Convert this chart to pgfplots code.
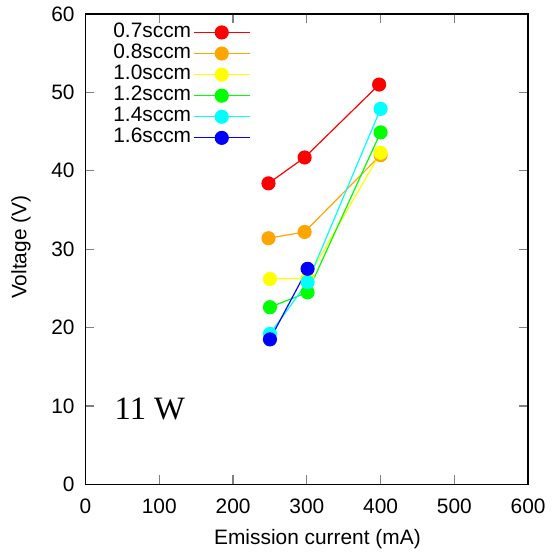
\documentclass[border=0pt]{standalone}
\usepackage{fontspec}
\setmainfont{Liberation Sans}
\newfontfamily\timesfont{Liberation Serif}
\usepackage{pgfplots}
\pgfplotsset{compat=1.18}

\definecolor{cRed}{RGB}{255,0,0}
\definecolor{cOrange}{RGB}{255,165,0}
\definecolor{cYellow}{RGB}{255,255,0}
\definecolor{cGreen}{RGB}{0,255,0}
\definecolor{cCyan}{RGB}{0,255,255}
\definecolor{cBlue}{RGB}{0,0,255}

\begin{document}
\begin{tikzpicture}
\begin{axis}[
    scale only axis,
    width=222.5bp, height=236.5bp,
    xmin=0, xmax=600, ymin=0, ymax=60,
    xtick={0,100,...,600},
    ytick={0,10,...,60},
    tick align=inside,
    major tick length=4.5bp,
    tick style={color=gray, line width=0.6pt},
    axis line style={line width=0.7pt},
    font=\fontsize{10.5bp}{12.6bp}\selectfont,
    /pgf/number format/assume math mode=true,
    xticklabel style={yshift=-3.6bp},
    yticklabel style={xshift=-2bp},
    xlabel={Emission current (mA)},
    ylabel={Voltage (V)},
    xlabel style={at={(axis description cs:0.524,-0.1268)}, anchor=base},
    ylabel style={at={(axis description cs:-0.1335,0.504)}, anchor=base, rotate=0},
    every axis plot/.append style={line width=0.6pt, mark=*, mark size=3.25bp},
    legend plot pos=right,
    legend image code/.code={\draw[mark repeat=2,mark phase=2,#1] plot coordinates {(0bp,0bp) (14.1bp,0bp) (28.2bp,0bp)};},
    legend style={draw=none, fill=none, inner sep=0pt, outer sep=0pt,
        at={(axis description cs:0.0629,0.9832)}, anchor=north west,
        row sep=0pt, column sep=1bp,
        nodes={inner sep=0pt, text height=7.6bp, text depth=3.0bp},
        font=\fontsize{10.5bp}{12.6bp}\selectfont},
]
\addplot[color=cRed, mark options={fill=cRed}] coordinates {(248,38.4) (297,41.7) (398,51.0)};
\addlegendentry{0.7sccm}
\addplot[color=cOrange, mark options={fill=cOrange}] coordinates {(248,31.4) (297,32.2) (400,42.0)};
\addlegendentry{0.8sccm}
\addplot[color=cYellow, mark options={fill=cYellow}] coordinates {(250,26.2) (301,26.3) (400,42.3)};
\addlegendentry{1.0sccm}
\addplot[color=cGreen, mark options={fill=cGreen}] coordinates {(250,22.6) (301,24.5) (400,44.9)};
\addlegendentry{1.2sccm}
\addplot[color=cCyan, mark options={fill=cCyan}] coordinates {(250,19.2) (301,25.8) (400,47.9)};
\addlegendentry{1.4sccm}
\addplot[color=cBlue, mark options={fill=cBlue}] coordinates {(250,18.5) (301,27.5)};
\addlegendentry{1.6sccm}
\node[anchor=base west, inner sep=0pt, font=\timesfont\fontsize{16.4bp}{19bp}\selectfont] at (axis cs:39,8.33) {11 W};
\end{axis}
\path (current axis.south west) ++(-43bp,-35bp) rectangle ([shift={(12bp,5.5bp)}]current axis.north east);
\end{tikzpicture}
\end{document}
